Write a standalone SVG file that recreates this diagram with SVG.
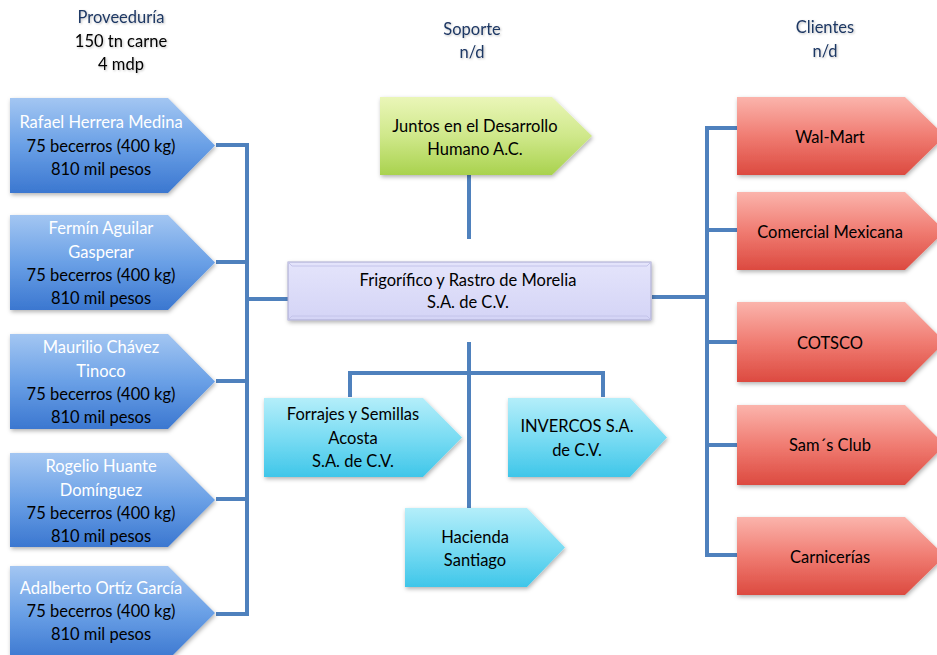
<svg xmlns="http://www.w3.org/2000/svg" width="937" height="655" viewBox="0 0 937 655">
<defs>
<linearGradient id="gBlue" x1="0" y1="0" x2="0" y2="1"><stop offset="0" stop-color="#a3c6f2"/><stop offset="0.5" stop-color="#6aa0e6"/><stop offset="1" stop-color="#3b77d0"/></linearGradient>
<linearGradient id="gGreen" x1="0" y1="0" x2="0" y2="1"><stop offset="0" stop-color="#eaf6b8"/><stop offset="0.5" stop-color="#cfe88a"/><stop offset="1" stop-color="#a9d24e"/></linearGradient>
<linearGradient id="gCyan" x1="0" y1="0" x2="0" y2="1"><stop offset="0" stop-color="#b4eefa"/><stop offset="0.5" stop-color="#7adcf3"/><stop offset="1" stop-color="#3fc6e9"/></linearGradient>
<linearGradient id="gRed" x1="0" y1="0" x2="0" y2="1"><stop offset="0" stop-color="#fbb4ac"/><stop offset="0.5" stop-color="#f07c72"/><stop offset="1" stop-color="#dc4a40"/></linearGradient>
<linearGradient id="gLav" x1="0" y1="0" x2="0" y2="1"><stop offset="0" stop-color="#e4e4fb"/><stop offset="1" stop-color="#d4d4f6"/></linearGradient>
<filter id="sh" x="-10%" y="-10%" width="130%" height="140%"><feDropShadow dx="1" dy="2" stdDeviation="2" flood-color="#000" flood-opacity="0.3"/></filter>
<filter id="tsh" x="-10%" y="-30%" width="120%" height="160%"><feDropShadow dx="1" dy="1" stdDeviation="1" flood-color="#000" flood-opacity="0.25"/></filter>
<style>
text{font-family:Lato,"Open Sans","Liberation Sans",sans-serif;font-size:16.5px;text-anchor:middle;fill:#000}
.w{fill:#fff}
.hd{fill:#1f3864}
.hdr{filter:url(#tsh)}
.blue{fill:url(#gBlue);filter:url(#sh)}
.green{fill:url(#gGreen);filter:url(#sh)}
.cyan{fill:url(#gCyan);filter:url(#sh)}
.red{fill:url(#gRed);filter:url(#sh)}
.lav{fill:url(#gLav);stroke:#a8a8d0;stroke-width:1;filter:url(#sh)}
.con{fill:none;stroke:#4f81bd;stroke-width:4}
</style>
</defs>
<rect width="937" height="655" fill="#fff"/>

<g id="headers" class="hdr">
<text x="121" y="23" class="hd">Proveeduría</text>
<text x="121" y="47">150 tn carne</text>
<text x="121" y="70">4 mdp</text>
<text x="472" y="35" class="hd">Soporte</text>
<text x="472" y="58" class="hd">n/d</text>
<text x="825" y="33" class="hd">Clientes</text>
<text x="825" y="57" class="hd">n/d</text>
</g>

<g id="connectors" class="con">
<path d="M216,145 H247 M216,262 H247 M216,381 H247 M216,499 H247 M216,614 H247 M247,143 V616 M247,299 H288"/>
<path d="M469,175 V239"/>
<path d="M469,342 V515 M350,397 V373 H603 V397"/>
<path d="M652,297 H707 M707,126 V557 M707,128 H737 M707,230 H737 M707,342 H737 M707,445 H737 M707,555 H737"/>
</g>

<g id="n-rafael"><path class="blue" d="M10,98 H168 L215,145.5 L168,193 H10 Z"/>
<text x="101" y="128" class="w">Rafael Herrera Medina</text><text x="101" y="152">75 becerros (400 kg)</text><text x="101" y="175">810 mil pesos</text></g>
<g id="n-fermin"><path class="blue" d="M10,215 H168 L215,262.5 L168,310 H10 Z"/>
<text x="101" y="234" class="w">Fermín Aguilar</text><text x="101" y="258" class="w">Gasperar</text><text x="101" y="281">75 becerros (400 kg)</text><text x="101" y="304">810 mil pesos</text></g>
<g id="n-maurilio"><path class="blue" d="M10,334 H168 L215,381.5 L168,429 H10 Z"/>
<text x="101" y="353" class="w">Maurilio Chávez</text><text x="101" y="377" class="w">Tinoco</text><text x="101" y="400">75 becerros (400 kg)</text><text x="101" y="423">810 mil pesos</text></g>
<g id="n-rogelio"><path class="blue" d="M10,453 H168 L215,500 L168,547 H10 Z"/>
<text x="101" y="472" class="w">Rogelio Huante</text><text x="101" y="496" class="w">Domínguez</text><text x="101" y="519">75 becerros (400 kg)</text><text x="101" y="542">810 mil pesos</text></g>
<g id="n-adalberto"><path class="blue" d="M10,566 H168 L215,613 L168,660 H10 Z"/>
<text x="101" y="594" class="w">Adalberto Ortíz García</text><text x="101" y="617">75 becerros (400 kg)</text><text x="101" y="640">810 mil pesos</text></g>

<g id="n-juntos"><path class="green" d="M380,97 H552 L592,136 L552,175 H380 Z"/>
<text x="475" y="132">Juntos en el Desarrollo</text><text x="475" y="155">Humano A.C.</text></g>

<g id="n-frigorifico"><rect class="lav" x="288" y="262" width="363" height="58"/>
<path d="M288,262 L292,266 H647 L651,262 M288,320 L292,316 H647 L651,320" fill="none" stroke="#c4c4ea" stroke-width="1"/>
<text x="468" y="286">Frigorífico y Rastro de Morelia</text><text x="468" y="308">S.A. de C.V.</text></g>

<g id="n-forrajes"><path class="cyan" d="M264,398 H423 L462,437.5 L423,477 H264 Z"/>
<text x="353" y="420">Forrajes y Semillas</text><text x="353" y="444">Acosta</text><text x="353" y="467">S.A. de C.V.</text></g>
<g id="n-invercos"><path class="cyan" d="M508,398 H630 L667,437.5 L630,477 H508 Z"/>
<text x="577" y="432">INVERCOS S.A.</text><text x="577" y="456">de C.V.</text></g>
<g id="n-hacienda"><path class="cyan" d="M405,508 H527 L565,547.5 L527,587 H405 Z"/>
<text x="475" y="543">Hacienda</text><text x="475" y="566">Santiago</text></g>

<g id="n-walmart"><path class="red" d="M737,97 H905 L945,136 L905,175 H737 Z"/><text x="830" y="143">Wal-Mart</text></g>
<g id="n-comercial"><path class="red" d="M737,192 H905 L945,231 L905,270 H737 Z"/><text x="830" y="238">Comercial Mexicana</text></g>
<g id="n-cotsco"><path class="red" d="M737,302 H905 L945,342 L905,382 H737 Z"/><text x="830" y="349">COTSCO</text></g>
<g id="n-sams"><path class="red" d="M737,405 H905 L945,445 L905,485 H737 Z"/><text x="830" y="451">Sam´s Club</text></g>
<g id="n-carnicerias"><path class="red" d="M737,517 H905 L945,556 L905,595 H737 Z"/><text x="830" y="563">Carnicerías</text></g>
</svg>
